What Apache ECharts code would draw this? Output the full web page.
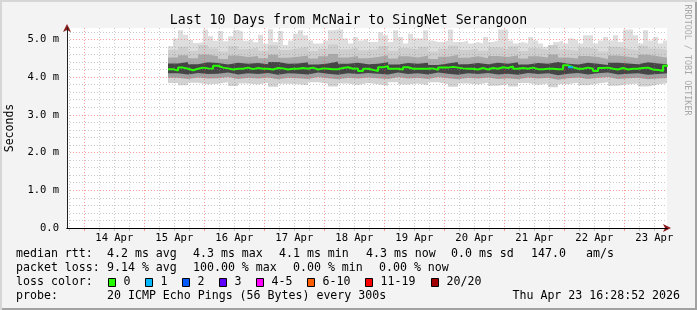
<!DOCTYPE html>
<html><head><meta charset="utf-8">
<script src="https://cdn.jsdelivr.net/npm/echarts@6/dist/echarts.min.js"></script>
<style>
html,body{margin:0;padding:0;background:#f3f3f3;}
#c{width:697px;height:310px;background:#f3f3f3;box-shadow:inset 2px 2px 0 #d6d6d6, inset -2px -2px 0 #a2a2a2;}
</style></head><body><div id="c"></div>
<script>
// ---------------- DATA ----------------
// time is expressed in hours since Apr 13 00:00
const axisStartHour = 17.08;          // Apr 13 17:05
const axisEndHour = 257.08;           // Apr 23 17:05
const firstSampleHour = 57.5;         // Apr 15 09:30
const fineStep = 2;                   // hours per sample (max / median)
const coarseStep = 4;                 // hours per sample (inner smoke bands)

const dayTickHours = [24, 48, 72, 96, 120, 144, 168, 192, 216, 240];
const dayLabelHours = [36, 60, 84, 108, 132, 156, 180, 204, 228, 252];
const dayLabels = ['14 Apr','15 Apr','16 Apr','17 Apr','18 Apr','19 Apr','20 Apr','21 Apr','22 Apr','23 Apr'];

const yLabelValues = [0, 1, 2, 3, 4, 5];
const yTickLabels = ['0.0', '1.0 m', '2.0 m', '3.0 m', '4.0 m', '5.0 m'];

// median RTT (ms), one value per 2 h
const medianRtt = [
 4.21,4.17,4.25,4.22,4.18,4.22,4.25,4.23,4.22,4.30,4.25,4.23,4.20,4.22,4.22,4.25,4.21,4.24,4.22,4.22,4.20,4.24,4.23,4.20,
 4.22,4.22,4.24,4.22,4.25,4.20,4.23,4.22,4.21,4.21,4.24,4.26,4.22,4.23,4.16,4.22,4.19,4.16,4.26,4.29,4.22,4.22,4.20,4.26,4.22,4.22,
 4.22,4.22,4.23,4.19,4.25,4.25,4.27,4.25,4.23,4.22,4.22,4.20,4.24,4.20,4.24,4.22,4.26,4.24,4.28,4.22,4.24,4.22,4.25,4.21,4.21,
 4.22,4.22,4.21,4.21,4.31,4.26,4.22,4.22,4.25,4.22,4.16,4.24,4.25,4.22,4.20,4.24,4.20,4.22,4.22,4.24,4.25,4.20,4.19,4.16,4.30
];
// lost pings out of 20, per median sample
const lostPings = [
 0,0,0,0,0,0,0,0,0,0, 0,0,0,0,0,0,0,0,0,0, 0,0,0,0,0,0,0,0,0,0, 0,0,0,0,0,0,0,0,0,0,
 0,0,0,0,0,0,0,0,0,0, 0,0,0,0,0,0,0,0,0,0, 0,0,0,0,0,0,0,0,0,0, 0,0,0,0,0,0,0,0,0,0,
 1,0,0,0,0,0,0,0,0,0, 0,0,0,0,0,0,0,0,0,0
];
// highest ping (ms), one value per 2 h
const rttMax = [
 4.82,5.02,5.24,5.12,4.98,4.90,4.93,5.26,5.08,4.96,5.22,4.95,5.08,5.25,5.20,4.96,5.00,4.92,5.12,4.88,5.27,4.93,5.22,4.85,
 4.97,5.15,5.24,5.11,4.97,4.89,4.89,4.97,5.24,5.26,5.26,5.02,4.89,5.06,4.97,5.02,4.93,4.93,5.19,5.11,4.93,5.24,5.06,4.89,5.15,5.02,
 5.02,5.24,4.97,4.93,4.93,4.97,5.26,4.93,4.93,4.97,4.89,4.93,4.89,5.06,4.93,4.97,5.26,5.26,4.97,4.89,4.93,4.89,5.06,4.97,4.89,
 4.80,4.80,4.93,4.97,4.89,5.02,4.97,4.89,5.11,5.11,4.89,4.97,5.06,4.97,5.11,4.93,5.26,5.26,5.11,4.89,5.24,4.97,5.06,4.89,4.97
];
// inner smoke band edges (ms), one value per 4 h
const rttUpper2 = [4.72,4.80,4.70,4.85,4.76,4.68,4.82,4.74,4.78,4.70,4.84,4.72,4.76,4.80,4.69,4.75,4.86,4.73,4.78,4.71,4.74,4.82,4.70,4.77,4.73,4.80,4.68,4.75,4.83,4.72,4.76,4.70,4.79,4.74,4.81,4.69,4.77,4.72,4.85,4.73,4.70,4.78,4.74,4.68,4.80,4.75,4.71,4.83,4.76,4.72];
const rttUpper1 = [4.52,4.58,4.50,4.60,4.55,4.48,4.57,4.53,4.56,4.50,4.59,4.51,4.54,4.57,4.49,4.55,4.61,4.52,4.56,4.50,4.53,4.58,4.49,4.55,4.52,4.57,4.48,4.54,4.59,4.51,4.55,4.50,4.56,4.53,4.58,4.49,4.55,4.52,4.60,4.52,4.49,4.56,4.53,4.48,4.57,4.54,4.50,4.59,4.55,4.51];
const rttUpper0 = [4.36,4.40,4.34,4.39,4.37,4.33,4.38,4.35,4.37,4.34,4.40,4.35,4.36,4.39,4.33,4.36,4.41,4.35,4.38,4.34,4.35,4.39,4.33,4.37,4.35,4.38,4.32,4.36,4.40,4.34,4.37,4.34,4.38,4.35,4.39,4.33,4.37,4.35,4.40,4.35,4.33,4.38,4.35,4.32,4.38,4.36,4.34,4.39,4.36,4.34];
const rttLower0 = [4.10,4.07,4.11,4.08,4.09,4.12,4.07,4.10,4.08,4.11,4.06,4.10,4.09,4.07,4.12,4.09,4.06,4.10,4.08,4.11,4.09,4.07,4.12,4.08,4.10,4.07,4.12,4.09,4.06,4.10,4.08,4.11,4.07,4.09,4.06,4.11,4.08,4.10,4.05,4.09,4.11,4.07,4.10,4.12,4.07,4.09,4.10,4.06,4.08,4.10];
const rttLower1 = [3.98,3.95,3.99,3.96,3.97,4.00,3.95,3.98,3.96,3.99,3.94,3.98,3.97,3.95,4.00,3.97,3.94,3.98,3.96,3.99,3.97,3.95,4.00,3.96,3.98,3.95,4.00,3.97,3.94,3.98,3.96,3.99,3.95,3.97,3.94,3.99,3.96,3.98,3.93,3.97,3.99,3.95,3.98,4.00,3.95,3.97,3.98,3.94,3.96,3.98];
const rttMin = [3.84,3.78,3.85,3.80,3.82,3.86,3.76,3.83,3.80,3.85,3.74,3.82,3.81,3.78,3.86,3.82,3.75,3.83,3.79,3.84,3.81,3.77,3.86,3.80,3.83,3.78,3.86,3.81,3.74,3.83,3.80,3.85,3.77,3.81,3.75,3.84,3.79,3.83,3.73,3.81,3.85,3.78,3.83,3.86,3.77,3.81,3.83,3.75,3.80,3.84];

// legend texts
const titleText = 'Last 10 Days from McNair to SingNet Serangoon';
const medianStats = ['median rtt:', '4.2 ms avg', '4.3 ms max', '4.1 ms min', '4.3 ms now', '0.0 ms sd', '147.0', 'am/s'];
const lossStats = ['packet loss:', '9.14 % avg', '100.00 % max', '0.00 % min', '0.00 % now'];
const lossClasses = ['0', '1', '2', '3', '4-5', '6-10', '11-19', '20/20'];
const lossClassMax = [0, 1, 2, 3, 5, 10, 19, 20];
const lossClassColors = ['#26ff00', '#00b8ff', '#0059ff', '#5e00ff', '#ff00ff', '#ff5e00', '#ff0000', '#a10000'];
const probeText = ['probe:', '20 ICMP Echo Pings (56 Bytes) every 300s'];
const stampText = 'Thu Apr 23 16:28:52 2026';
const watermark = 'RRDTOOL / TOBI OETIKER';

// ---------------- CHART ----------------
const FONT = '"DejaVu Sans Mono", monospace';
const chart = echarts.init(document.getElementById('c'), null, {renderer: 'canvas'});

function tHour(i, step) { return firstSampleHour + i * step; }
function stepData(vals, step) {
  const d = vals.map((v, i) => [tHour(i, step), v]);
  d.push([tHour(vals.length, step), vals[vals.length - 1]]);
  return d;
}
function lossColor(n) {
  for (let k = 0; k < lossClassMax.length; k++) if (n <= lossClassMax[k]) return lossClassColors[k];
  return lossClassColors[lossClassColors.length - 1];
}

const smokeLayers = [
  [rttMax, fineStep, '#dedede'],
  [rttUpper2, coarseStep, '#cecece'],
  [rttUpper1, coarseStep, '#a9a9a9'],
  [rttUpper0, coarseStep, '#454545'],
  [rttLower0, coarseStep, '#a0a0a0'],
  [rttLower1, coarseStep, '#d2d2d2'],
  [rttMin, coarseStep, '#ffffff']
];
const series = smokeLayers.map(([vals, step, color]) => ({
  type: 'line', xAxisIndex: 0, yAxisIndex: 0, step: 'end', data: stepData(vals, step),
  symbol: 'none', showSymbol: false, lineStyle: {width: 0, color: color},
  areaStyle: {color: color, opacity: 1, origin: 'start'}, silent: true, animation: false, z: 1
}));
series.push({
  type: 'line', xAxisIndex: 0, yAxisIndex: 0, step: 'end', data: stepData(medianRtt, fineStep),
  symbol: 'none', lineStyle: {color: lossClassColors[0], width: 2}, silent: true, animation: false, z: 3
});
medianRtt.forEach((v, i) => {
  if (lostPings[i] > 0) {
    series.push({
      type: 'line', xAxisIndex: 0, yAxisIndex: 0,
      data: [[tHour(i, fineStep), v], [tHour(i + 1, fineStep), v]],
      symbol: 'none', lineStyle: {color: lossColor(lostPings[i]), width: 2}, silent: true, animation: false, z: 3.5
    });
  }
});

const quarterTickHours = [];
for (let h = 18; h < axisEndHour; h += 6) if (h % 24 !== 0) quarterTickHours.push(h);
const yMinorValues = [];
for (let k = 1; k <= 26; k++) if (k % 5 !== 0) yMinorValues.push(+(k * 0.2).toFixed(1));
const yMajorValues = [1, 2, 3, 4, 5];

const RED = 'rgba(255,60,60,0.5)';
const GREY = 'rgba(140,140,140,0.45)';
const ARROW = '#8b1a1a';

const xBase = {type: 'value', min: axisStartHour, max: axisEndHour, position: 'bottom', offset: 0,
  axisLabel: {show: false}, axisLine: {show: false, onZero: false}, splitLine: {show: false}, axisTick: {show: false}};
const yBase = {type: 'value', min: 0, max: 5.3, position: 'left', offset: 0,
  axisLabel: {show: false}, axisLine: {show: false, onZero: false}, splitLine: {show: false}, axisTick: {show: false}};

const graphics = [];
function txt(x, y, s, extra) {
  graphics.push(Object.assign({type: 'text', x: x, y: y, silent: true,
    style: {text: s, font: '11.6px ' + FONT, fill: '#000', verticalAlign: 'middle', align: 'left'}}, extra || {}));
}
const statX = [16, 107, 193, 279, 366, 451, 531, 586];
medianStats.forEach((s, k) => txt(statX[k], 254, s));
const lossX = [16, 107, 193, 293, 379];
lossStats.forEach((s, k) => txt(lossX[k], 268, s));
txt(16, 282, 'loss color:');
const boxX = [108.5, 145.5, 182.5, 219.5, 256.5, 307.5, 365.5, 431.5];
lossClasses.forEach((s, k) => {
  graphics.push({type: 'rect', silent: true, shape: {x: boxX[k], y: 278.5, width: 7, height: 8},
    style: {fill: lossClassColors[k], stroke: '#000', lineWidth: 1}});
  txt(boxX[k] + 15, 282, s);
});
txt(16, 296, probeText[0]);
txt(107, 296, probeText[1]);
graphics.push({type: 'text', x: 680, y: 296, silent: true,
  style: {text: stampText, font: '11.6px ' + FONT, fill: '#000', verticalAlign: 'middle', align: 'right'}});
graphics.push({type: 'text', x: 687.5, y: 60, rotation: -Math.PI / 2, silent: true,
  style: {text: watermark, font: '8.4px ' + FONT, fill: '#a8a8a8', verticalAlign: 'middle', align: 'center'}});

chart.setOption({
  animation: false,
  backgroundColor: 'transparent',
  title: {text: titleText, left: 'center', top: 9,
    textStyle: {fontFamily: FONT, fontSize: 13.2, fontWeight: 'normal', color: '#000'}},
  grid: {left: 67, right: 30, top: 28, bottom: 82, show: true, backgroundColor: '#ffffff', borderWidth: 0, containLabel: false, outerBoundsMode: 'none'},
  xAxis: [
    Object.assign({}, xBase, {z: 2,
      axisTick: {show: true, length: 3, customValues: quarterTickHours, lineStyle: {color: GREY}},
      splitLine: {show: true, lineStyle: {color: GREY, type: [1, 2], width: 1}}}),
    Object.assign({}, xBase, {z: 2,
      axisTick: {show: true, length: 3, customValues: dayTickHours, lineStyle: {color: RED}},
      splitLine: {show: true, lineStyle: {color: RED, type: [1, 2], width: 1}},
      axisLine: {show: true, onZero: false, symbol: ['none', 'arrow'], symbolSize: [6, 8], symbolOffset: [0, 4], lineStyle: {color: ARROW, width: 1}}}),
    Object.assign({}, xBase, {z: 4,
      axisLine: {show: true, onZero: false, lineStyle: {color: '#000', width: 1}},
      axisLabel: {show: true, customValues: dayLabelHours, margin: 5,
        formatter: v => dayLabels[dayLabelHours.indexOf(Math.round(v))],
        fontFamily: FONT, fontSize: 10.5, color: '#000'}})
  ],
  yAxis: [
    Object.assign({}, yBase, {z: 2,
      axisTick: {show: false, customValues: yMinorValues},
      splitLine: {show: true, lineStyle: {color: GREY, type: [1, 2], width: 1}}}),
    Object.assign({}, yBase, {z: 2,
      axisTick: {show: false, customValues: yMajorValues},
      splitLine: {show: true, lineStyle: {color: RED, type: [1, 2], width: 1}},
      axisLine: {show: true, onZero: false, symbol: ['none', 'arrow'], symbolSize: [6, 8], symbolOffset: [0, 4], lineStyle: {color: ARROW, width: 1}}}),
    Object.assign({}, yBase, {z: 4,
      axisLine: {show: true, onZero: false, lineStyle: {color: '#222', width: 1}},
      axisLabel: {show: true, customValues: yLabelValues, margin: 8,
        formatter: v => yTickLabels[yLabelValues.indexOf(Math.round(v))],
        fontFamily: FONT, fontSize: 10.5, color: '#000'},
      name: 'Seconds', nameLocation: 'middle', nameGap: 48,
      nameTextStyle: {fontFamily: FONT, fontSize: 11.5, color: '#000'}})
  ],
  series: series,
  graphic: graphics
});
</script></body></html>
